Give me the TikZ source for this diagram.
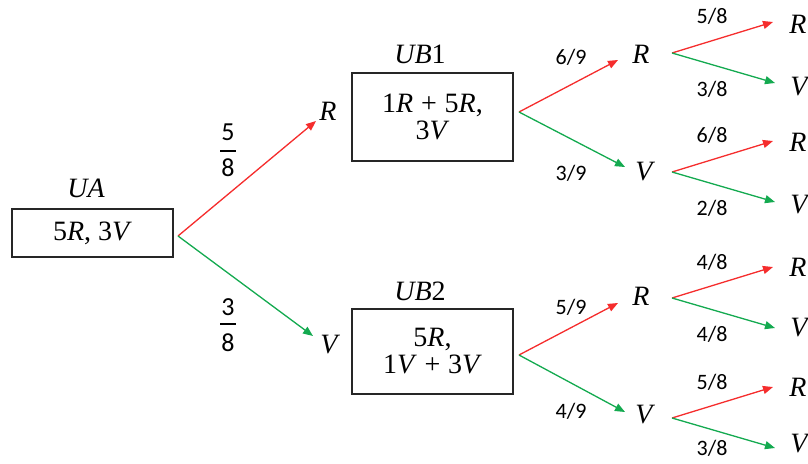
\documentclass[tikz,border=0pt]{standalone}
\usepackage{fontspec}
\setmainfont{Liberation Serif}
\newfontfamily\numfont{Carlito}
\usetikzlibrary{arrows.meta}
\definecolor{redarc}{RGB}{245,45,45}
\definecolor{greenarc}{RGB}{20,170,80}
\newcommand{\iR}{\textit{R}}
\newcommand{\iV}{\textit{V}}
\begin{document}
\begin{tikzpicture}[x=1pt,y=-1pt,
  urn/.style={draw=black!85,line width=1.2pt,minimum width=161pt,inner sep=0pt},
  big/.style={font=\fontsize{28}{30}\selectfont},
  leaf/.style={font=\fontsize{28}{30}\selectfont\itshape,inner sep=0pt},
  prob/.style={font=\numfont\fontsize{22}{24}\selectfont,inner sep=0pt},
  fracdigit/.style={font=\numfont\fontsize{26}{28}\selectfont,inner sep=0pt},
  fracbar/.style={line width=1.6pt},
  arc/.style={line width=1.3pt,-{Triangle[length=10pt,width=8pt]}},
  redarrow/.style={arc,draw=redarc,fill=redarc},
  greenarrow/.style={arc,draw=greenarc,fill=greenarc}]
\useasboundingbox (0,0) rectangle (808,463);

% urns
\node[urn,big,minimum height=48pt] (ua) at (92.5,233) {5\iR, 3\iV};
\node[big] (uaname) at (86,188) {\textit{UA}};
\node[urn,big,minimum height=88pt,align=center] (ub1) at (432.5,117)
  {1\iR\;+\;5\iR,\\[-3pt]3\iV};
\node[big] (ub1name) at (420,54) {\textit{UB}1};
\node[urn,big,minimum height=85pt,align=center] (ub2) at (432.5,351.5)
  {5\iR,\\[-3pt]1\iV\;+\;3\iV};
\node[big] (ub2name) at (420,291) {\textit{UB}2};

% first draw
\coordinate (s0) at (178,236);
\node[leaf] (r1) at (328,111) {R};
\node[leaf] (v1) at (329,345) {V};
\coordinate (t-r1) at (316,121);
\coordinate (t-v1) at (313,336);
\draw[redarrow] (s0) -- (t-r1);
\draw[greenarrow] (s0) -- (t-v1);
\node[fracdigit] (p-r1n) at (228,132) {5};
\node[fracdigit] (p-r1d) at (228,168) {8};
\draw[fracbar] (220,151) -- (236,151);
\node[fracdigit] (p-v1n) at (228,307) {3};
\node[fracdigit] (p-v1d) at (228,343) {8};
\draw[fracbar] (220,324) -- (236,324);

% second draw
\coordinate (s1) at (519,112);
\coordinate (s2) at (519,355);
\node[leaf] (r11) at (641,54) {R};
\node[leaf] (v11) at (644,172) {V};
\node[leaf] (r21) at (641,296) {R};
\node[leaf] (v21) at (644,415) {V};
\coordinate (t-r11) at (618,60);
\coordinate (t-v11) at (625,167);
\coordinate (t-r21) at (618,303);
\coordinate (t-v21) at (625,412);
\draw[redarrow] (s1) -- (t-r11);
\draw[greenarrow] (s1) -- (t-v11);
\draw[redarrow] (s2) -- (t-r21);
\draw[greenarrow] (s2) -- (t-v21);
\node[prob] (p-r11) at (571,57) {6/9};
\node[prob] (p-v11) at (571,173) {3/9};
\node[prob] (p-r21) at (571,307) {5/9};
\node[prob] (p-v21) at (571,411) {4/9};

% third draw: name / start y / R label y / V label y / R prob y / V prob y
\foreach \name/\y/\ry/\vy/\pry/\pvy/\pr/\pv in
  {a/53/24/87/16/89/5/3, b/172/142/205/135/208/6/2,
   c/298/267/328/262/334/4/4, d/418/387/444/382/448/5/3}{
  \coordinate (s-\name) at (672,\y);
  \node[leaf] (r-\name) at (798,\ry) {R};
  \node[leaf] (v-\name) at (799,\vy) {V};
  \coordinate (t-r-\name) at (773,\y-31);
  \coordinate (t-v-\name) at (775,\y+30);
  \draw[redarrow] (s-\name) -- (t-r-\name);
  \draw[greenarrow] (s-\name) -- (t-v-\name);
  \node[prob] (p-r-\name) at (712,\pry) {\pr/8};
  \node[prob] (p-v-\name) at (712,\pvy) {\pv/8};
}
\end{tikzpicture}
\end{document}
